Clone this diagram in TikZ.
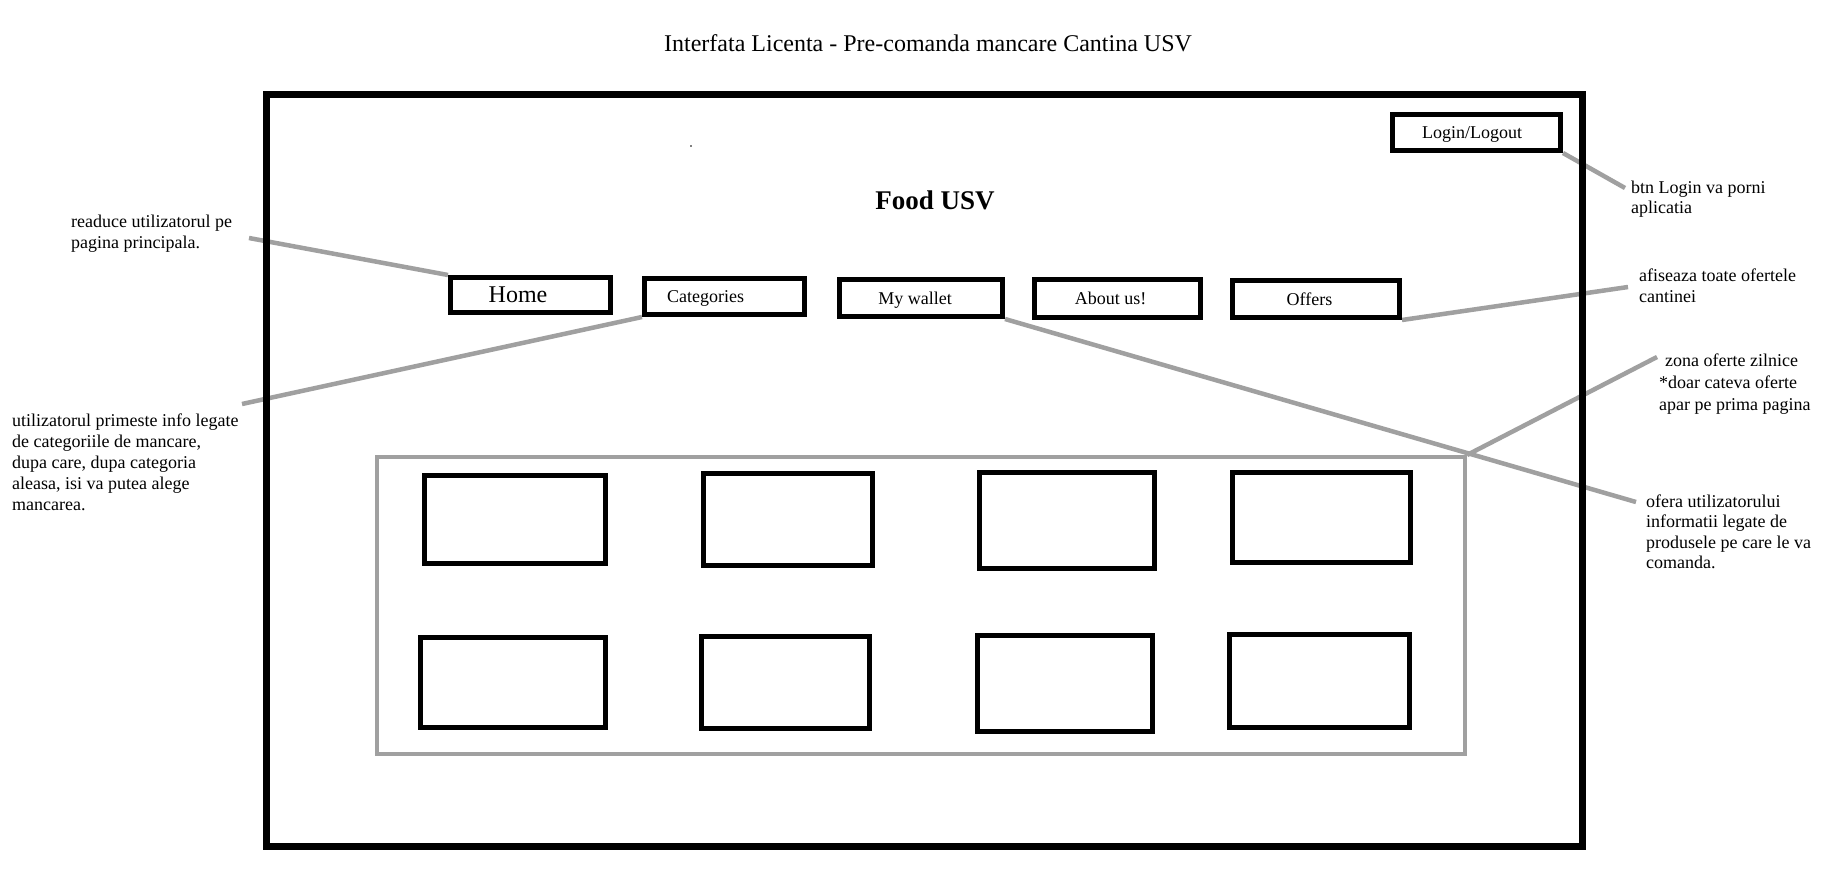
\documentclass[tikz,border=0pt]{standalone}
\usepackage{fontspec}
\setmainfont{Liberation Serif}
\definecolor{conncol}{RGB}{160,160,160}
\pgfdeclarelayer{back}
\pgfdeclarelayer{bg}
\pgfsetlayers{back,bg,main}
\tikzset{
  btn/.style={draw, line width=5pt, inner sep=0pt, font=\fontsize{18}{21}\selectfont},
  tile/.style={draw, line width=5pt},
  conn/.style={draw=conncol, line width=4.5pt},
  zonebox/.style={draw=conncol, line width=4pt, inner sep=0pt},
  note/.style={align=left, inner sep=0pt, anchor=base west, font=\fontsize{18}{21}\selectfont},
}
\begin{document}
\begin{tikzpicture}[x=1pt,y=-1pt]
\begin{pgfonlayer}{back}
\fill[white] (0,0) rectangle (1842,876);
\end{pgfonlayer}
\useasboundingbox (0,0) rectangle (1842,876);

% title
\node[anchor=base, inner sep=0pt, font=\fontsize{24}{28}\selectfont] (title) at (928,51) {Interfata Licenta - Pre-comanda mancare Cantina USV};

% frame
\draw[line width=7pt] (266,94.5) rectangle (1582,846);

% brand
\node[anchor=base, inner sep=0pt, font=\fontsize{27}{31}\selectfont\bfseries] (brand) at (935,209) {Food USV};
\fill (691,146) circle (0.8pt);

% login
\node[btn, text depth=0pt, minimum width=168pt, minimum height=36pt] (login) at (1476.5,132.5) {Login/Logout\hspace*{9pt}};

% menu buttons
\node[btn, minimum width=160pt, minimum height=35pt, font=\fontsize{24}{28}\selectfont] (home) at (530.5,295) {Home\hspace*{25pt}};
\node[btn, text depth=0pt, minimum width=160pt, minimum height=36pt] (cat) at (724.5,296.5) {Categories\hspace*{38pt}};
\node[btn, text depth=0pt, minimum width=163pt, minimum height=37pt] (wallet) at (921,298) {My wallet\hspace*{12pt}};
\node[btn, minimum width=166pt, minimum height=38pt] (about) at (1117.5,298.5) {About us!\hspace*{14pt}};
\node[btn, minimum width=167pt, minimum height=37pt] (offers) at (1316,299) {Offers\hspace*{13pt}};

% daily offers zone
\node[zonebox, minimum width=1088pt, minimum height=297pt] (zone) at (921,605.5) {};

% tiles
\draw[tile] (424.5,475.5) rectangle (605.5,563.5);
\draw[tile] (703.6,473.4) rectangle (872.8,565);
\draw[tile] (979.7,472.2) rectangle (1154.7,568.6);
\draw[tile] (1232.3,472.2) rectangle (1410.8,562.7);
\draw[tile] (420.5,637.9) rectangle (605,727.1);
\draw[tile] (701.3,636.7) rectangle (869.3,728.3);
\draw[tile] (977.4,635.5) rectangle (1152.4,731.8);
\draw[tile] (1229.9,634.3) rectangle (1409.6,727.1);

% notes (anchored at the baseline of their last line)
\node[note] (nhome) at (71,248) {readuce utilizatorul pe\\pagina principala.};
\node[note] (ncat) at (12,510) {utilizatorul primeste info legate\\de categoriile de mancare,\\dupa care, dupa categoria\\aleasa, isi va putea alege\\mancarea.};
\node[note, font=\fontsize{18}{20}\selectfont] (nlogin) at (1631,213) {btn Login va porni\\aplicatia};
\node[note] (noffers) at (1639,302) {afiseaza toate ofertele\\cantinei};
\node[note, font=\fontsize{18}{22}\selectfont] (nzone) at (1659,410) {\hspace*{6pt}zona oferte zilnice\\*doar cateva oferte\\apar pe prima pagina};
\node[note, font=\fontsize{18}{20.5}\selectfont] (nwallet) at (1646,568.5) {ofera utilizatorului\\informatii legate de\\produsele pe care le va\\comanda.};

% connector ends
\coordinate (chome) at (249,238);
\coordinate (ccat) at (242,404);
\coordinate (cwallet) at (1636,502);
\coordinate (coffers) at (1628,287);
\coordinate (clogin) at (1625,188);
\coordinate (czone) at (1657,357);

\begin{pgfonlayer}{bg}
\draw[conn] (chome) -- (home.north west);
\draw[conn] (cat.south west) -- (ccat);
\draw[conn] (wallet.south east) -- (cwallet);
\draw[conn] (offers.south east) -- (coffers);
\draw[conn] (login.south east) -- (clogin);
\draw[conn] (zone.north east) -- (czone);
\end{pgfonlayer}
\end{tikzpicture}
\end{document}
